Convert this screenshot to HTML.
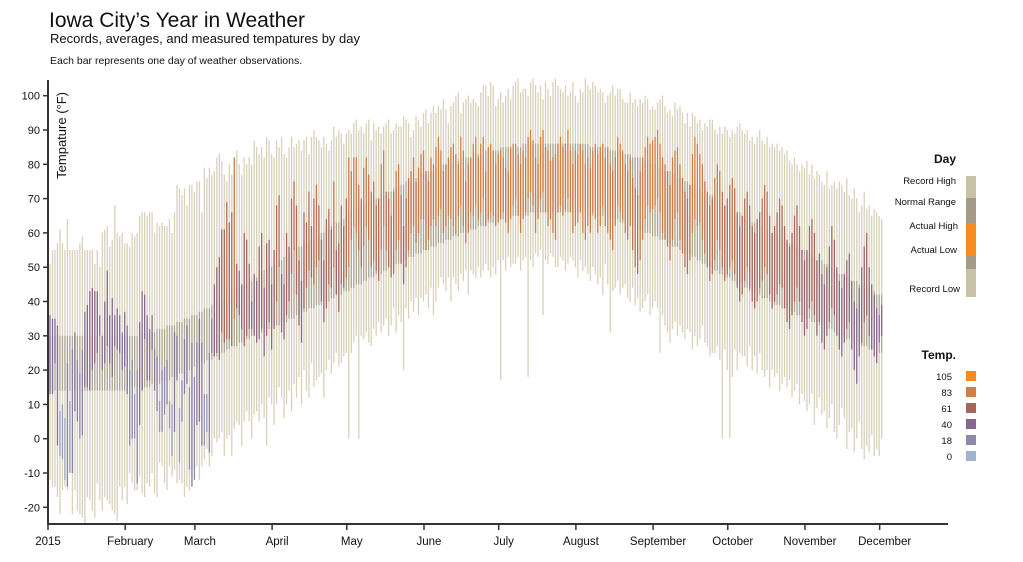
<!DOCTYPE html>
<html><head><meta charset="utf-8"><style>
body{margin:0;background:#fff;}
svg{display:block;font-family:"Liberation Sans",sans-serif;}
</style></head><body>
<svg id="chart" width="1023" height="562" viewBox="0 0 1023 562">
<text x="49" y="27" font-size="21" fill="#111">Iowa City’s Year in Weather</text>
<text x="50" y="43" font-size="13" fill="#111">Records, averages, and measured tempatures by day</text>
<text x="50" y="64" font-size="10.5" fill="#111">Each bar represents one day of weather observations.</text>
<g id="bars"></g>
<g id="axes"></g>
<text transform="translate(66,92) rotate(-90)" text-anchor="end" font-size="13" fill="#111">Tempature (°F)</text>
<g>
<text x="956" y="163" text-anchor="end" font-size="12" font-weight="bold" fill="#111">Day</text>
<rect x="966" y="176" width="10" height="22" fill="#c9c1a6"/>
<rect x="966" y="198" width="10" height="25" fill="#a39a87"/>
<rect x="966" y="223" width="10" height="33" fill="#f68c1e"/>
<rect x="966" y="256" width="10" height="13" fill="#a39a87"/>
<rect x="966" y="269" width="10" height="28" fill="#c9c1a6"/>
<text x="956" y="184" text-anchor="end" font-size="9.5" fill="#111">Record High</text>
<text x="956" y="205" text-anchor="end" font-size="9.5" fill="#111">Normal Range</text>
<text x="958" y="229" text-anchor="end" font-size="9.5" fill="#111">Actual High</text>
<text x="957" y="253" text-anchor="end" font-size="9.5" fill="#111">Actual Low</text>
<text x="960" y="292" text-anchor="end" font-size="9.5" fill="#111">Record Low</text>
</g>
<g id="templegend">
<text x="956" y="359" text-anchor="end" font-size="12" font-weight="bold" fill="#111">Temp.</text>
</g>
</svg>
<script>
const months=['2015','February','March','April','May','June','July','August','September','October','November','December'];
const monthStart=[0,31,59,90,120,151,181,212,243,273,304,334];
const yTicks=[-20,-10,0,10,20,30,40,50,60,70,80,90,100];
const tempStops=[0,18,40,61,83,105];
const tempColors=['#9fb4cc','#8f8aab','#86678f','#a8655e','#d27c48','#f68c1e'];
const recordHigh=[51,55,55,57,61,57,55,64,55,55,55,55,57,59,55,55,55,55,51,55,50,60,61,62,56,58,68,60,59,60,57,
57,56,60,59,60,65,66,66,65,66,66,60,63,62,63,62,62,64,60,66,74,73,71,73,68,74,74,72,
75,75,66,79,76,79,77,78,82,83,81,77,75,80,77,78,84,80,77,82,80,82,80,87,85,83,85,82,88,87,83,
82,87,85,88,83,82,85,88,85,86,87,84,87,88,83,88,90,88,87,85,88,86,84,87,91,88,90,89,86,89,
90,89,92,93,90,91,89,92,93,87,92,90,91,89,91,92,93,89,90,92,91,91,94,93,92,88,90,94,93,91,95,
96,92,95,97,95,97,96,99,96,92,97,98,100,101,95,98,99,100,98,99,98,97,101,103,103,100,104,103,97,99,
101,98,100,102,99,103,104,105,101,102,102,100,104,105,103,101,103,99,104,102,100,104,105,103,102,101,103,100,101,104,100,
98,102,101,105,103,102,104,103,101,102,101,98,100,101,103,100,102,102,99,98,98,101,98,99,97,99,98,100,99,96,97,
96,98,99,100,97,95,96,94,98,96,97,95,92,95,91,95,94,92,93,90,92,91,93,93,90,89,91,89,91,90,
88,90,89,91,92,90,89,90,87,88,86,88,90,87,86,88,85,86,85,86,84,85,83,84,81,80,82,80,78,80,79,
81,77,80,76,78,77,75,74,78,73,74,75,73,75,74,72,76,71,70,73,70,66,68,72,67,68,65,67,66,65,
64];
const recordLow=[-12,-14,-14,-17,-22,-15,-14,-15,-10,-22,-15,-21,-22,-23,-25,-17,-18,-21,-23,-13,-18,-21,-17,-18,-19,-21,-22,-24,-14,-18,-14,
-19,-10,-13,-15,-15,-11,-16,-17,-13,-14,-10,-16,-17,-7,-8,-13,-15,-8,-11,-9,-13,-12,-13,-17,-14,-15,-11,-9,
-8,-12,-8,-6,-3,-8,-5,0,-1,0,2,-5,0,1,-5,3,5,4,-2,5,8,5,0,7,8,5,10,6,-2,12,10,
4,10,15,12,6,10,14,8,16,12,18,10,20,14,12,22,15,17,18,19,12,20,23,19,22,25,21,22,24,25,
0,25,28,30,0,30,29,31,28,27,32,30,34,31,33,35,30,33,38,31,36,34,20,38,35,40,37,41,36,41,40,
42,38,44,36,40,44,47,45,43,47,40,47,45,43,48,46,49,42,49,48,47,50,47,49,51,49,47,50,48,52,
17,52,49,53,50,51,51,53,49,52,53,18,52,50,54,53,55,36,52,51,54,53,50,50,53,52,49,51,53,52,50,
47,52,49,50,48,46,50,48,45,47,42,51,45,31,43,44,46,42,44,45,41,40,44,39,41,37,38,40,42,36,38,
40,38,25,36,33,31,28,32,34,30,33,31,29,32,31,26,30,27,29,33,28,27,24,25,25,27,23,0,26,20,
0,18,26,20,25,24,24,21,27,20,24,19,25,20,18,20,15,20,18,19,14,16,18,15,17,12,14,16,10,13,11,
8,10,13,4,9,12,7,8,3,6,10,2,0,4,9,6,-3,2,3,-4,0,5,-3,-6,-2,-4,1,-5,-3,-5,
0];
const normalHigh=[30,30,30,30,30,30,30,30,30,30,30,30,30,30,30,30,30,30,30,30,30,30,30,30,30,30,30,30,30,30,30,
30,30,30,30,30,31,31,31,31,31,31,31,32,32,32,32,33,33,33,33,34,34,34,35,35,35,36,36,
36,37,37,38,38,38,39,39,40,40,40,41,41,42,42,43,43,44,44,45,45,46,46,47,47,48,48,49,49,50,50,
51,51,52,52,53,53,54,54,55,55,56,56,57,57,57,58,58,59,59,60,60,61,61,62,62,63,63,64,64,65,
65,66,66,67,67,68,68,68,69,69,70,70,70,71,71,72,72,72,73,73,74,74,74,75,75,75,76,76,76,77,77,
77,78,78,78,79,79,79,80,80,80,80,81,81,81,81,82,82,82,82,83,83,83,83,83,84,84,84,84,84,84,
85,85,85,85,85,85,85,85,85,86,86,86,86,86,86,86,86,86,86,86,86,86,86,86,86,86,86,86,86,86,86,
86,86,86,86,86,85,85,85,85,85,85,85,84,84,84,84,84,84,83,83,83,83,82,82,82,82,81,81,81,80,80,
80,79,79,79,78,78,78,77,77,76,76,76,75,75,74,74,74,73,73,72,72,71,71,71,70,70,69,69,68,68,
67,67,66,66,66,65,65,64,64,63,63,63,62,62,61,61,60,60,60,59,59,58,58,57,57,57,56,56,55,55,55,
54,54,53,53,52,52,52,51,51,50,50,49,49,48,48,48,47,47,46,46,46,45,45,44,44,44,43,43,42,42,
42];
const normalLow=[14,14,14,14,14,14,14,14,14,14,14,14,14,14,14,14,14,14,14,14,14,14,14,14,14,14,14,14,14,14,14,
15,15,15,15,15,15,15,15,15,15,16,16,16,16,17,17,17,17,18,18,18,19,19,19,20,20,20,21,
21,22,22,22,23,23,23,24,24,25,25,25,26,26,27,27,27,28,28,28,29,29,30,30,30,31,31,31,32,32,32,
33,33,33,34,34,34,35,35,35,36,36,37,37,37,38,38,38,39,39,39,40,40,40,41,41,42,42,42,43,43,
43,44,44,45,45,45,46,46,47,47,47,48,48,48,49,49,50,50,50,51,51,51,52,52,53,53,53,54,54,54,55,
55,55,56,56,56,57,57,57,58,58,58,59,59,59,60,60,60,61,61,61,61,62,62,62,62,63,63,63,63,64,
64,64,64,64,65,65,65,65,65,65,65,65,66,66,66,66,66,66,66,66,66,66,66,66,66,66,66,66,66,66,66,
66,66,66,66,66,65,65,65,65,65,65,65,64,64,64,64,64,63,63,63,63,62,62,62,61,61,61,60,60,60,59,
59,59,58,58,58,57,57,56,56,56,55,55,54,54,54,53,53,52,52,51,51,51,50,50,49,49,48,48,48,47,
47,46,46,45,45,45,44,44,43,43,43,42,42,41,41,41,40,40,39,39,39,38,38,38,37,37,37,36,36,36,35,
35,35,34,34,34,33,33,33,32,32,32,31,31,30,30,30,29,29,29,28,28,28,27,27,27,26,26,26,25,25,
25];
const actualHigh=[36,35,35,33,8,10,6,22,11,26,31,23,19,26,37,39,43,44,43,43,36,30,40,49,36,41,36,38,36,31,37,
33,20,23,13,20,34,43,42,36,32,36,26,24,11,20,21,23,11,10,31,30,9,17,29,33,15,28,18,
28,35,28,13,13,25,35,45,50,53,61,61,69,63,66,82,51,49,45,60,58,51,40,48,46,56,60,44,57,58,45,
55,68,71,48,45,60,56,70,75,68,52,46,66,63,72,62,70,74,68,58,52,64,67,61,75,55,57,68,62,70,
82,78,82,82,74,70,79,82,77,72,75,68,70,80,84,72,70,65,72,78,80,71,62,70,76,78,82,75,79,83,84,
78,75,82,80,85,88,84,78,80,82,85,86,83,80,88,84,75,80,82,86,88,82,86,88,78,85,86,84,80,83,
84,82,79,78,85,86,86,83,80,84,82,88,90,87,82,80,88,90,85,84,81,82,83,86,88,85,86,90,84,80,84,
83,86,84,80,82,79,84,86,83,85,86,82,85,80,78,82,88,86,84,80,78,82,76,73,71,78,82,85,88,86,87,
88,90,86,82,80,78,74,82,84,85,80,76,72,70,74,83,88,86,83,80,75,72,68,70,76,80,78,72,68,70,
74,76,73,66,62,65,70,72,68,62,60,64,66,70,74,72,65,60,62,66,70,68,62,58,56,60,65,68,62,55,52,
55,62,64,60,52,54,48,45,50,56,62,58,50,46,44,48,52,54,46,40,38,44,50,56,60,50,45,42,38,36,
39];
const actualLow=[13,13,22,-2,-5,-6,-12,-14,-10,-10,8,5,0,1,15,15,14,20,22,25,30,20,22,27,22,18,27,26,25,20,21,
13,-2,0,0,-13,4,14,29,17,17,26,14,8,2,2,7,10,3,-5,2,17,-7,5,13,16,-9,-14,-12,
4,5,-2,-2,2,-4,25,24,25,23,31,28,29,29,27,35,38,36,32,27,30,32,32,30,28,29,32,24,30,34,26,
32,40,50,31,29,36,40,48,55,42,33,28,38,44,49,47,45,50,52,40,34,38,45,44,50,42,37,45,44,47,
50,58,62,60,55,50,56,62,58,50,52,49,46,55,62,55,50,47,48,55,58,51,45,50,55,60,62,57,60,64,64,
55,58,62,64,62,65,67,60,62,65,64,62,60,65,68,62,57,60,66,65,68,64,66,70,62,64,66,65,62,63,
64,66,63,60,64,68,70,65,60,64,66,70,72,68,60,64,70,72,66,62,64,60,58,66,68,65,67,70,66,60,62,
63,66,60,58,62,60,66,64,60,62,68,62,60,58,55,62,68,66,64,60,58,62,55,50,48,52,58,64,68,66,67,
68,70,66,60,58,56,52,58,64,66,58,54,50,48,52,60,64,62,63,58,54,50,46,48,52,58,55,50,46,48,
50,52,48,44,40,42,46,50,44,40,38,40,44,46,50,48,42,38,40,42,45,44,38,34,32,36,40,44,40,34,30,
32,38,40,36,30,34,28,26,30,34,38,36,30,26,24,28,32,34,26,20,16,24,28,34,36,30,26,24,22,28,
30];

const NS='http://www.w3.org/2000/svg';
const X0=48,XEND=948,DAYPX=2.49,AXY=524;
function x(d){return X0+2+d*DAYPX;}
function y(v){return 95.7+(100-v)*3.43;}
function hex(c){return [1,3,5].map(i=>parseInt(c.substr(i,2),16));}
function tempColor(v){
  if(v<=tempStops[0])return tempColors[0];
  for(let i=1;i<tempStops.length;i++){
    if(v<=tempStops[i]){
      const t=(v-tempStops[i-1])/(tempStops[i]-tempStops[i-1]);
      const a=hex(tempColors[i-1]),b=hex(tempColors[i]);
      return 'rgb('+a.map((c,k)=>Math.round(c+(b[k]-c)*t)).join(',')+')';
    }
  }
  return tempColors[tempColors.length-1];
}
function mk(tag,attrs,parent){const e=document.createElementNS(NS,tag);for(const k in attrs)e.setAttribute(k,attrs[k]);parent.appendChild(e);return e;}
const bars=document.getElementById('bars');
const W=1.3;
for(let i=0;i<recordHigh.length;i++){
  const r=mk('rect',{x:x(i)-W/2,y:y(recordHigh[i]),width:W,height:y(recordLow[i])-y(recordHigh[i]),fill:'#d8d1bc'},bars);
  
  
  const n=mk('rect',{x:x(i)-W/2,y:y(normalHigh[i]),width:W,height:y(normalLow[i])-y(normalHigh[i]),fill:'rgba(120,110,90,0.45)'},bars);
  
  
  const a=mk('rect',{x:x(i)-W/2,y:y(actualHigh[i]),width:W,height:y(actualLow[i])-y(actualHigh[i]),fill:tempColor(actualHigh[i])},bars);
  
  
}
const axes=document.getElementById('axes');
const yl=mk('line',{x1:X0,x2:X0,y1:80,y2:AXY,stroke:'#333','stroke-width':2},axes);


const xl=mk('line',{x1:X0-1,x2:XEND,y1:AXY,y2:AXY,stroke:'#333','stroke-width':2},axes);


yTicks.forEach(v=>{
  const t=mk('line',{x1:X0-5,x2:X0,y1:y(v),y2:y(v),stroke:'#333','stroke-width':1.5},axes);
  
  
  const l=mk('text',{x:X0-8,y:y(v)+4,'text-anchor':'end','font-size':11,fill:'#111'},axes);
  l.textContent=v;
  
  
});
months.forEach((m,i)=>{
  const px=X0+monthStart[i]*DAYPX;
  const t=mk('line',{x1:px,x2:px,y1:AXY,y2:AXY+6,stroke:'#333','stroke-width':1.5},axes);
  
  
  const l=mk('text',{x:i===0?px:px+5,y:545,'text-anchor':'middle','font-size':11.5,fill:'#111'},axes);
  l.textContent=m;
  
  
});
const tl=document.getElementById('templegend');
const legendVals=[105,83,61,40,18,0];
legendVals.forEach((v,i)=>{
  const yy=371+i*16;
  const s=mk('rect',{x:966,y:yy,width:10,height:10,fill:tempColor(v)},tl);
  
  
  const l=mk('text',{x:952,y:yy+9,'text-anchor':'end','font-size':9.5,fill:'#111'},tl);
  l.textContent=v;
  
  
});
</script>
</body></html>
